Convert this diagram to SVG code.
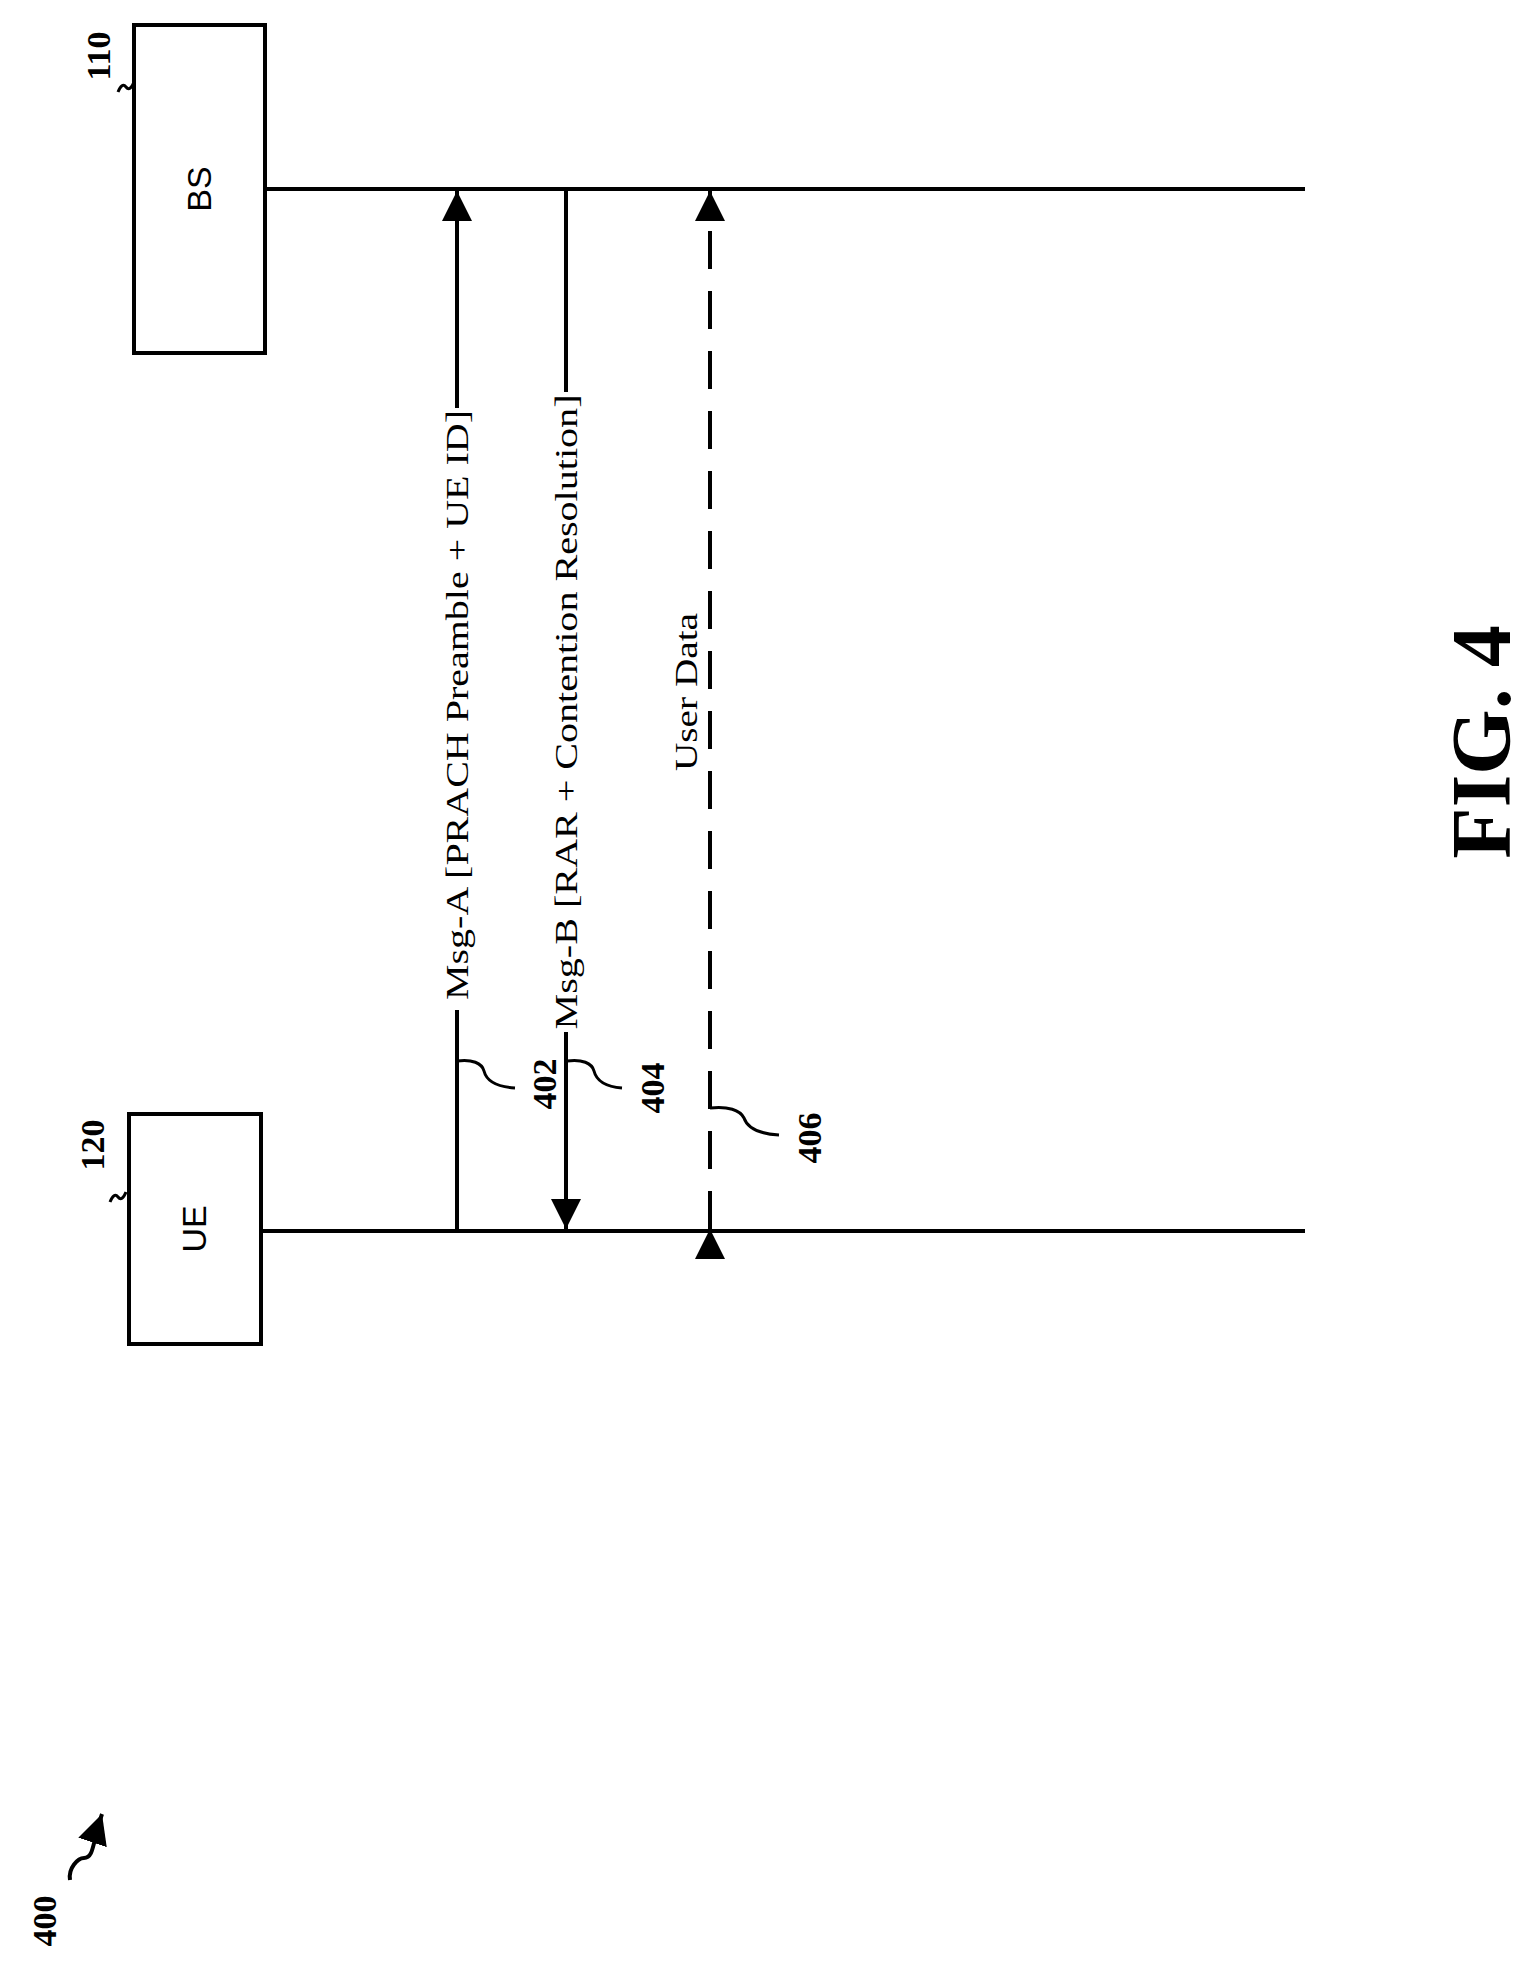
<svg xmlns="http://www.w3.org/2000/svg" width="1532" height="1988" viewBox="0 0 1532 1988">
<style>
.ln{stroke:#000;stroke-width:4;fill:none}
.sq{stroke:#000;stroke-width:3;fill:none}
.box{stroke:#000;stroke-width:4;fill:#fff}
.lab{font-family:"Liberation Serif",serif;font-size:32px;fill:#000}
.ref{font-family:"Liberation Serif",serif;font-size:34px;font-weight:bold;fill:#000}
.nd{font-family:"Liberation Sans",sans-serif;font-size:34px;fill:#000}
</style>
<defs>
<marker id="ah" markerWidth="10" markerHeight="10" refX="9" refY="5" orient="auto" markerUnits="userSpaceOnUse" viewBox="0 0 10 10">
<path d="M0,0 L10,5 L0,10 z" fill="#000"/>
</marker>
<marker id="ar" markerWidth="30" markerHeight="30" refX="30" refY="15" orient="auto" markerUnits="userSpaceOnUse" viewBox="0 0 30 30">
<path d="M0,0 L30,15 L0,30 z" fill="#000"/>
</marker>
</defs>
<g id="bs">
<rect class="box" x="134" y="25" width="131" height="328"/>
<text class="nd" transform="translate(211,189) rotate(-90)" text-anchor="middle">BS</text>
<text class="ref" transform="translate(110,56) rotate(-90)" text-anchor="middle">110</text>
<path class="sq" d="M118,92 q4,-10 8,-5 q4,5 8,-5"/>
</g>
<g id="ue">
<rect class="box" x="129" y="1114" width="132" height="230"/>
<text class="nd" transform="translate(206,1229) rotate(-90)" text-anchor="middle">UE</text>
<text class="ref" transform="translate(104,1145) rotate(-90)" text-anchor="middle">120</text>
<path class="sq" d="M110,1202 q4,-10 8,-5 q4,5 8,-5"/>
</g>
<g id="connectors">
<line class="ln" x1="265" y1="189" x2="1305" y2="189"/>
<line class="ln" x1="261" y1="1231" x2="1305" y2="1231"/>
<!-- Msg-A -->
<line class="ln" x1="457" y1="1231" x2="457" y2="1010"/>
<line class="ln" x1="457" y1="408" x2="457" y2="191" marker-end="url(#ar)"/>
<!-- Msg-B -->
<line class="ln" x1="566" y1="189" x2="566" y2="392"/>
<line class="ln" x1="566" y1="1032" x2="566" y2="1229" marker-end="url(#ar)"/>
<!-- User data -->
<line class="ln" x1="710" y1="1229" x2="710" y2="191" stroke-dasharray="38,22" marker-start="url(#ar)" marker-end="url(#ar)"/>
</g>
<g id="labels">
<text class="lab" transform="translate(468,705) rotate(-90)" text-anchor="middle" textLength="590" lengthAdjust="spacingAndGlyphs">Msg-A [PRACH Preamble + UE ID]</text>
<text class="lab" transform="translate(577,712) rotate(-90)" text-anchor="middle" textLength="635" lengthAdjust="spacingAndGlyphs">Msg-B [RAR + Contention Resolution]</text>
<text class="lab" transform="translate(697,692) rotate(-90)" text-anchor="middle" textLength="158" lengthAdjust="spacingAndGlyphs">User Data</text>
</g>
<g id="refs">
<path class="sq" d="M457,1061 c15,-2 25,2 27,10 c3,12 15,16 31,17"/>
<text class="ref" transform="translate(556,1084) rotate(-90)" text-anchor="middle">402</text>
<path class="sq" d="M567,1061 c15,-2 25,2 27,10 c3,12 15,16 28,17"/>
<text class="ref" transform="translate(664,1088) rotate(-90)" text-anchor="middle">404</text>
<path class="sq" d="M710,1108 c18,-2 30,2 34,10 c4,12 18,16 35,17"/>
<text class="ref" transform="translate(821,1138) rotate(-90)" text-anchor="middle">406</text>
<text class="ref" transform="translate(56,1921) rotate(-90)" text-anchor="middle">400</text>
<path class="sq" d="M70,1880 c-2,-12 8,-22 14,-22 c10,0 8,-14 18,-44" marker-end="url(#ar)" style="stroke-width:4"/>
<text class="ref" style="font-size:84px" transform="translate(1510,742) rotate(-90)" text-anchor="middle">FIG. 4</text>
</g>
</svg>
